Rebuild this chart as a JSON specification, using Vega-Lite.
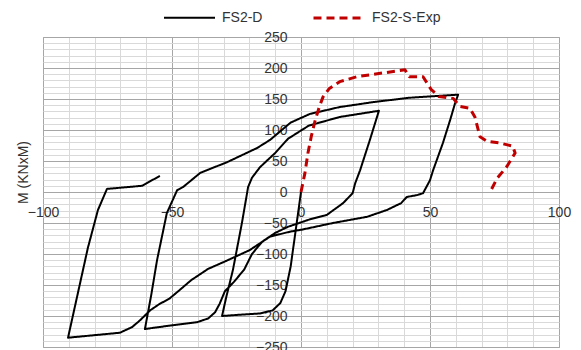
{
  "$schema": "https://vega.github.io/schema/vega-lite/v6.json",
  "width": 516,
  "height": 310,
  "autosize": {"type": "none"},
  "padding": {"left": 43, "top": 37, "right": 22, "bottom": 3},
  "config": {"font": "Liberation Sans", "view": {"stroke": "#a6a6a6", "strokeWidth": 1}},
  "data": {"values": [
    {"s":"FS2-D","i":1,"x":0,"y":0},
    {"s":"FS2-D","i":2,"x":-2,"y":-60},
    {"s":"FS2-D","i":3,"x":-4,"y":-120},
    {"s":"FS2-D","i":4,"x":-6,"y":-160},
    {"s":"FS2-D","i":5,"x":-8,"y":-179},
    {"s":"FS2-D","i":6,"x":-11,"y":-191},
    {"s":"FS2-D","i":7,"x":-16,"y":-196},
    {"s":"FS2-D","i":8,"x":-24,"y":-198},
    {"s":"FS2-D","i":9,"x":-30.6,"y":-200},
    {"s":"FS2-D","i":10,"x":-29,"y":-170},
    {"s":"FS2-D","i":11,"x":-26.4,"y":-126},
    {"s":"FS2-D","i":12,"x":-22.9,"y":-50},
    {"s":"FS2-D","i":13,"x":-20.5,"y":8},
    {"s":"FS2-D","i":14,"x":-19,"y":23},
    {"s":"FS2-D","i":15,"x":-15.9,"y":40},
    {"s":"FS2-D","i":16,"x":-10,"y":63},
    {"s":"FS2-D","i":17,"x":-5,"y":86},
    {"s":"FS2-D","i":18,"x":3,"y":107},
    {"s":"FS2-D","i":19,"x":15,"y":121},
    {"s":"FS2-D","i":20,"x":30.2,"y":131},
    {"s":"FS2-D","i":21,"x":26.7,"y":84},
    {"s":"FS2-D","i":22,"x":22.9,"y":35},
    {"s":"FS2-D","i":23,"x":21,"y":14},
    {"s":"FS2-D","i":24,"x":20,"y":-2},
    {"s":"FS2-D","i":25,"x":16.3,"y":-18},
    {"s":"FS2-D","i":26,"x":10,"y":-37},
    {"s":"FS2-D","i":27,"x":3.5,"y":-44},
    {"s":"FS2-D","i":28,"x":0,"y":-49},
    {"s":"FS2-D","i":29,"x":-5,"y":-56},
    {"s":"FS2-D","i":30,"x":-10,"y":-66},
    {"s":"FS2-D","i":31,"x":-15,"y":-80},
    {"s":"FS2-D","i":32,"x":-19,"y":-100},
    {"s":"FS2-D","i":33,"x":-22,"y":-125},
    {"s":"FS2-D","i":34,"x":-26,"y":-145},
    {"s":"FS2-D","i":35,"x":-29.5,"y":-160},
    {"s":"FS2-D","i":36,"x":-31.5,"y":-180},
    {"s":"FS2-D","i":37,"x":-33.3,"y":-194},
    {"s":"FS2-D","i":38,"x":-36,"y":-204},
    {"s":"FS2-D","i":39,"x":-40.3,"y":-210},
    {"s":"FS2-D","i":40,"x":-50,"y":-215},
    {"s":"FS2-D","i":41,"x":-60.5,"y":-221},
    {"s":"FS2-D","i":42,"x":-58,"y":-165},
    {"s":"FS2-D","i":43,"x":-55.8,"y":-110},
    {"s":"FS2-D","i":44,"x":-52,"y":-34},
    {"s":"FS2-D","i":45,"x":-48,"y":3},
    {"s":"FS2-D","i":46,"x":-45.7,"y":8},
    {"s":"FS2-D","i":47,"x":-39,"y":31},
    {"s":"FS2-D","i":48,"x":-28.7,"y":48},
    {"s":"FS2-D","i":49,"x":-17,"y":71},
    {"s":"FS2-D","i":50,"x":-12,"y":84},
    {"s":"FS2-D","i":51,"x":-4,"y":112},
    {"s":"FS2-D","i":52,"x":3.5,"y":126},
    {"s":"FS2-D","i":53,"x":15,"y":137},
    {"s":"FS2-D","i":54,"x":28,"y":145},
    {"s":"FS2-D","i":55,"x":42,"y":152},
    {"s":"FS2-D","i":56,"x":60.9,"y":157},
    {"s":"FS2-D","i":57,"x":59.7,"y":143},
    {"s":"FS2-D","i":58,"x":57.8,"y":116},
    {"s":"FS2-D","i":59,"x":55,"y":79},
    {"s":"FS2-D","i":60,"x":51.2,"y":35},
    {"s":"FS2-D","i":61,"x":50,"y":19},
    {"s":"FS2-D","i":62,"x":47.3,"y":-2},
    {"s":"FS2-D","i":63,"x":45,"y":-5},
    {"s":"FS2-D","i":64,"x":41,"y":-8},
    {"s":"FS2-D","i":65,"x":38.8,"y":-18},
    {"s":"FS2-D","i":66,"x":33.3,"y":-29},
    {"s":"FS2-D","i":67,"x":25.6,"y":-40},
    {"s":"FS2-D","i":68,"x":12.4,"y":-50},
    {"s":"FS2-D","i":69,"x":0,"y":-61},
    {"s":"FS2-D","i":70,"x":-4.3,"y":-64},
    {"s":"FS2-D","i":71,"x":-12,"y":-72},
    {"s":"FS2-D","i":72,"x":-20,"y":-94},
    {"s":"FS2-D","i":73,"x":-30,"y":-113},
    {"s":"FS2-D","i":74,"x":-36,"y":-124},
    {"s":"FS2-D","i":75,"x":-42.5,"y":-142},
    {"s":"FS2-D","i":76,"x":-47,"y":-158},
    {"s":"FS2-D","i":77,"x":-51,"y":-172},
    {"s":"FS2-D","i":78,"x":-55,"y":-181},
    {"s":"FS2-D","i":79,"x":-58.5,"y":-191},
    {"s":"FS2-D","i":80,"x":-62.4,"y":-207},
    {"s":"FS2-D","i":81,"x":-65.5,"y":-218},
    {"s":"FS2-D","i":82,"x":-70.2,"y":-227},
    {"s":"FS2-D","i":83,"x":-90.3,"y":-235},
    {"s":"FS2-D","i":84,"x":-82.6,"y":-90},
    {"s":"FS2-D","i":85,"x":-78.7,"y":-29},
    {"s":"FS2-D","i":86,"x":-75.2,"y":5},
    {"s":"FS2-D","i":87,"x":-61.6,"y":10},
    {"s":"FS2-D","i":88,"x":-54.7,"y":26},
    {"s":"FS2-S-Exp","i":1,"x":0,"y":0},
    {"s":"FS2-S-Exp","i":2,"x":1.5,"y":30},
    {"s":"FS2-S-Exp","i":3,"x":2.7,"y":63},
    {"s":"FS2-S-Exp","i":4,"x":4,"y":90},
    {"s":"FS2-S-Exp","i":5,"x":5.4,"y":114},
    {"s":"FS2-S-Exp","i":6,"x":7,"y":136},
    {"s":"FS2-S-Exp","i":7,"x":8.5,"y":153},
    {"s":"FS2-S-Exp","i":8,"x":11,"y":167},
    {"s":"FS2-S-Exp","i":9,"x":15,"y":178},
    {"s":"FS2-S-Exp","i":10,"x":21.7,"y":186},
    {"s":"FS2-S-Exp","i":11,"x":31.8,"y":192},
    {"s":"FS2-S-Exp","i":12,"x":40.3,"y":197},
    {"s":"FS2-S-Exp","i":13,"x":42,"y":186},
    {"s":"FS2-S-Exp","i":14,"x":47.3,"y":186},
    {"s":"FS2-S-Exp","i":15,"x":50.5,"y":165},
    {"s":"FS2-S-Exp","i":16,"x":53.5,"y":154},
    {"s":"FS2-S-Exp","i":17,"x":59,"y":151},
    {"s":"FS2-S-Exp","i":18,"x":61.6,"y":138},
    {"s":"FS2-S-Exp","i":19,"x":65.5,"y":135},
    {"s":"FS2-S-Exp","i":20,"x":67.4,"y":121},
    {"s":"FS2-S-Exp","i":21,"x":69.4,"y":89},
    {"s":"FS2-S-Exp","i":22,"x":72,"y":82},
    {"s":"FS2-S-Exp","i":23,"x":77,"y":79},
    {"s":"FS2-S-Exp","i":24,"x":82,"y":74},
    {"s":"FS2-S-Exp","i":25,"x":83,"y":63},
    {"s":"FS2-S-Exp","i":26,"x":79.8,"y":41},
    {"s":"FS2-S-Exp","i":27,"x":76,"y":22},
    {"s":"FS2-S-Exp","i":28,"x":73.3,"y":0}
  ]},
  "mark": {"type": "line", "clip": false, "strokeJoin": "round"},
  "encoding": {
    "x": {
      "field": "x", "type": "quantitative",
      "scale": {"domain": [-100, 100], "nice": false, "zero": false},
      "axis": {
        "values": [-100,-90,-80,-70,-60,-50,-40,-30,-20,-10,0,10,20,30,40,50,60,70,80,90,100],
        "offset": -155, "domain": false, "ticks": false, "tickSize": 0,
        "labelExpr": "datum.value % 50 === 0 ? datum.label : ''",
        "labelFontSize": 14, "labelColor": "#333333", "labelPadding": 13, "labelFlush": false, "labelOverlap": false,
        "gridColor": {"condition": {"test": "datum.value % 50 === 0", "value": "#a6a6a6"}, "value": "#d9d9d9"},
        "gridWidth": 1,
        "title": null
      }
    },
    "y": {
      "field": "y", "type": "quantitative",
      "scale": {"domain": [-250, 250], "nice": false, "zero": false},
      "axis": {
        "values": [-250,-240,-230,-220,-210,-200,-190,-180,-170,-160,-150,-140,-130,-120,-110,-100,-90,-80,-70,-60,-50,-40,-30,-20,-10,0,10,20,30,40,50,60,70,80,90,100,110,120,130,140,150,160,170,180,190,200,210,220,230,240,250],
        "offset": -258, "domain": false, "ticks": false, "tickSize": 0,
        "labelExpr": "datum.value % 50 === 0 ? datum.label : ''",
        "labelFontSize": 14, "labelColor": "#333333", "labelPadding": 14, "labelFlush": false, "labelOverlap": false,
        "gridColor": {"condition": {"test": "datum.value % 50 === 0", "value": "#a6a6a6"}, "value": "#d9d9d9"},
        "gridWidth": 1,
        "title": "M (KNxM)", "titleFontSize": 14, "titleFontWeight": "normal", "titleColor": "#333333",
        "titleX": -278, "titleY": 135, "titleAngle": -90, "titleAlign": "center", "titleBaseline": "middle"
      }
    },
    "color": {
      "field": "s", "type": "nominal",
      "scale": {"domain": ["FS2-D", "FS2-S-Exp"], "range": ["#000000", "#c00000"]},
      "legend": {"orient": "none", "legendX": 120, "legendY": -46, "direction": "horizontal", "title": null,
        "symbolType": "stroke", "symbolSize": 2601, "symbolStrokeWidth": 2.5,
        "labelFontSize": 14, "labelColor": "#333333", "labelOffset": 6, "columnPadding": 44}
    },
    "strokeDash": {
      "field": "s", "type": "nominal",
      "scale": {"domain": ["FS2-D", "FS2-S-Exp"], "range": [[1, 0], [8, 5]]},
      "legend": {"orient": "none", "legendX": 120, "legendY": -46, "direction": "horizontal", "title": null,
        "symbolType": "stroke", "symbolSize": 2601, "symbolStrokeWidth": 2.5,
        "labelFontSize": 14, "labelColor": "#333333", "labelOffset": 6, "columnPadding": 44}
    },
    "strokeWidth": {
      "field": "s", "type": "nominal",
      "scale": {"domain": ["FS2-D", "FS2-S-Exp"], "range": [2, 3]},
      "legend": null
    },
    "order": {"field": "i", "type": "quantitative"}
  }
}
